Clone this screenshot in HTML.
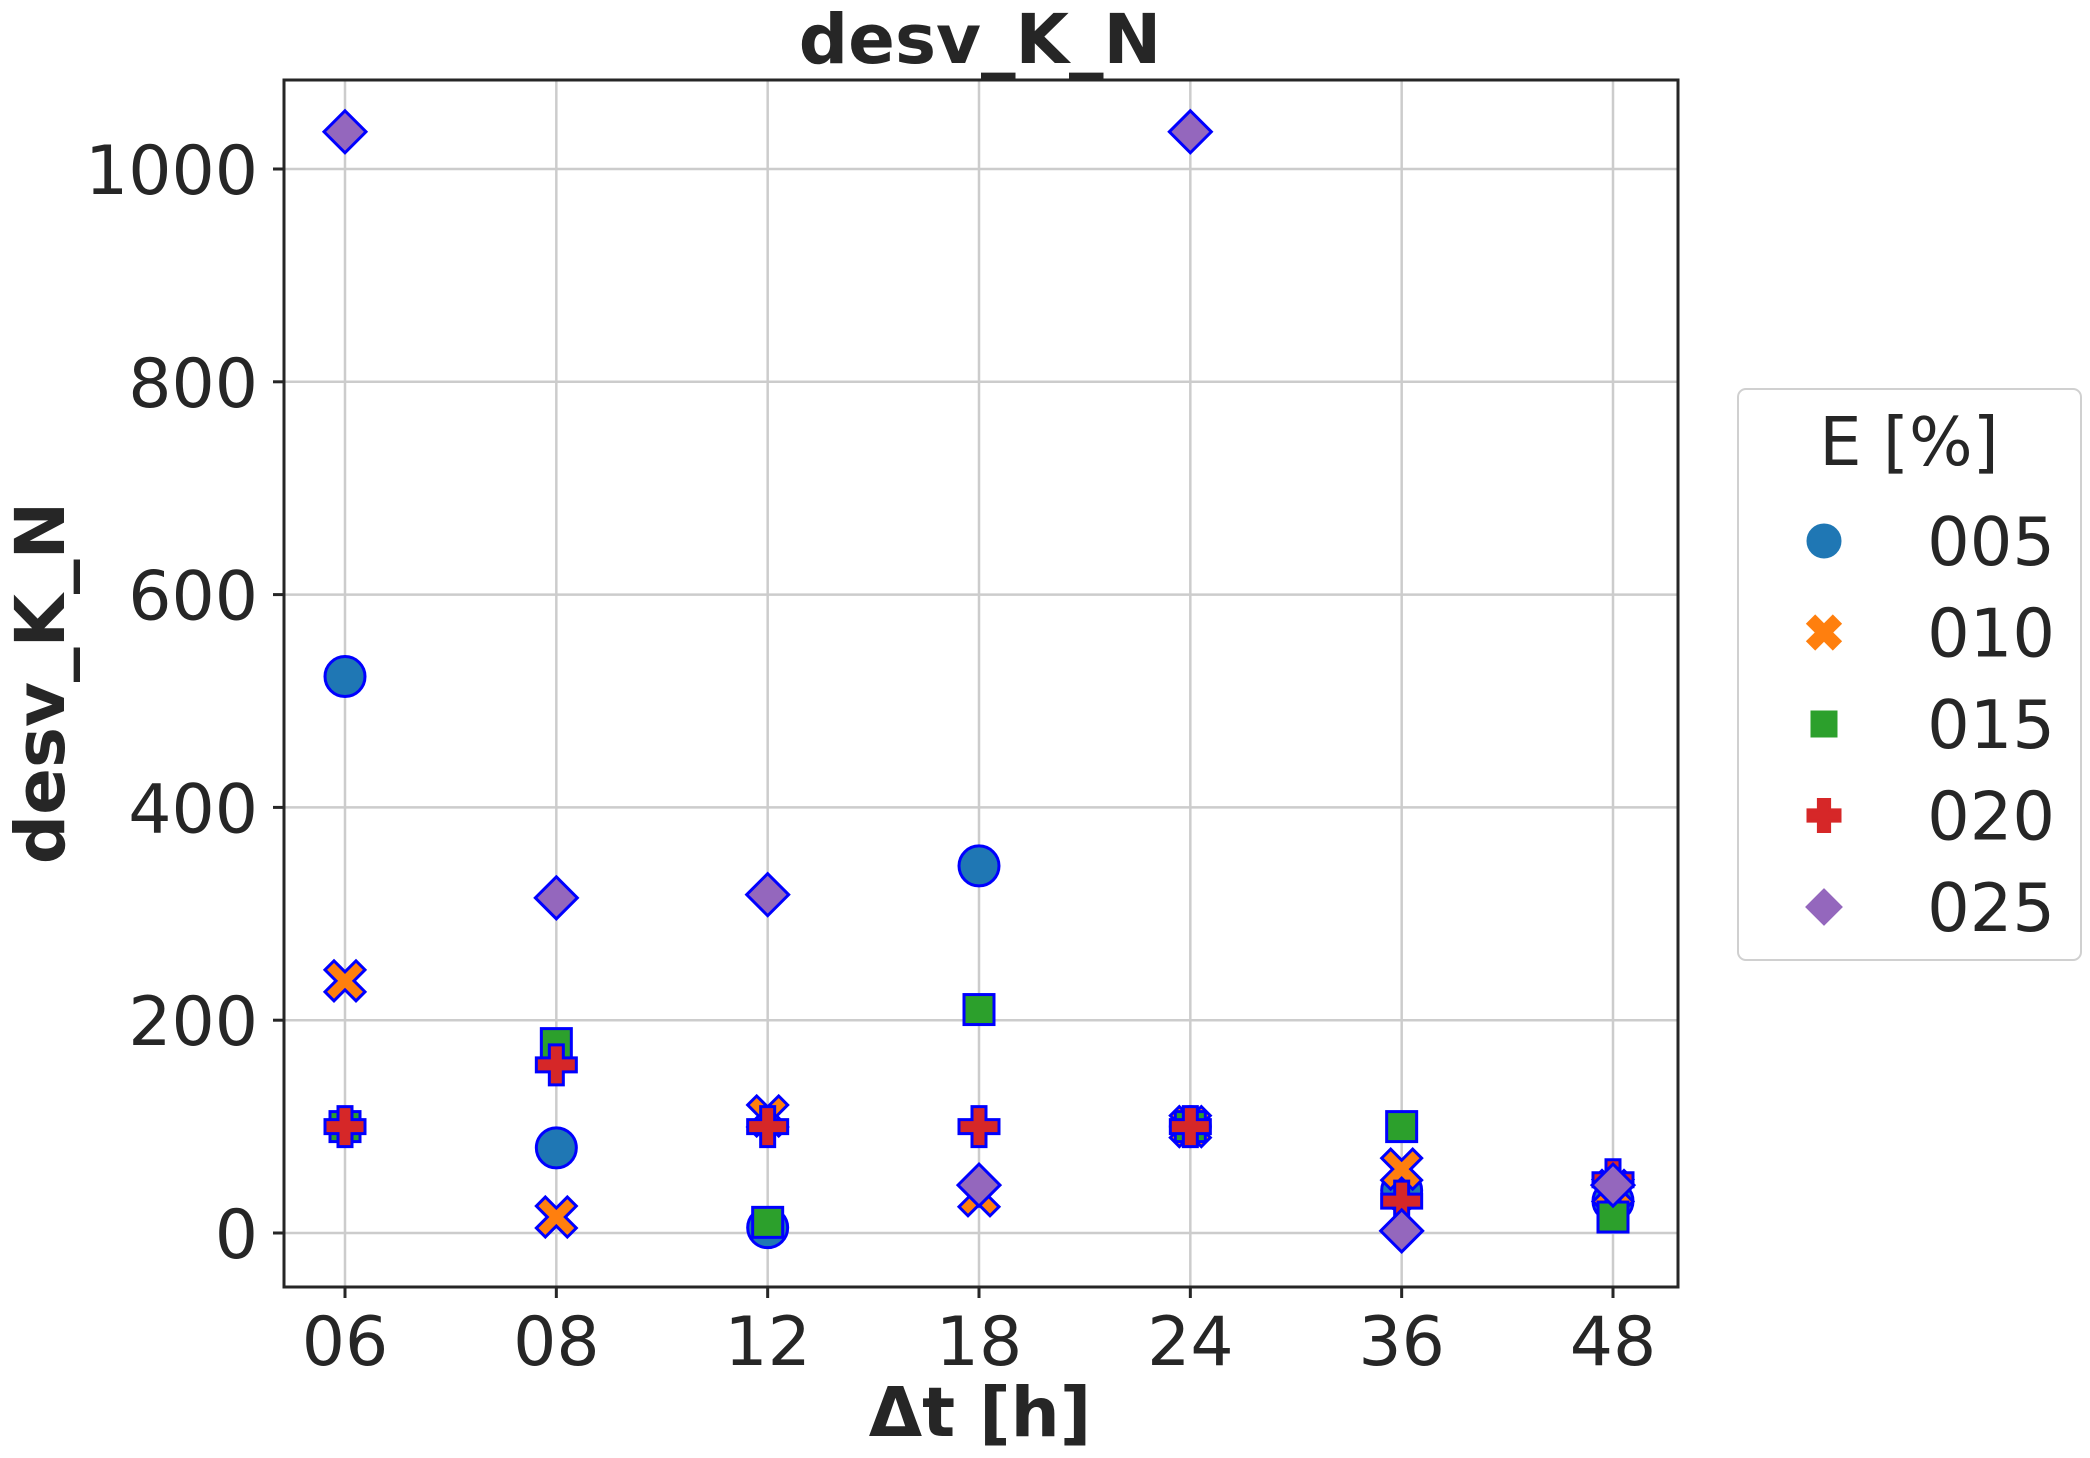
<!DOCTYPE html>
<html><head><meta charset="utf-8"><style>
html,body{margin:0;padding:0;background:#fff;}
svg{display:block;font-family:"DejaVu Sans","Liberation Sans",sans-serif;}
</style></head><body>
<svg id="chart" width="2090" height="1458" viewBox="0 0 2090 1458" xmlns="http://www.w3.org/2000/svg">
<rect width="2090" height="1458" fill="#fff"/>
<text x="980" y="63" font-size="69" font-weight="bold" text-anchor="middle" fill="#262626">desv_K_N</text>
<g id="grid"></g>
<g id="marks"></g>
<rect x="284" y="80" width="1394" height="1207" fill="none" stroke="#262626" stroke-width="3"/>
<g id="axes"></g>
<text x="980" y="1436" font-size="69" font-weight="bold" text-anchor="middle" fill="#262626">Δt [h]</text>
<text transform="translate(64,683) rotate(-90)" font-size="69" font-weight="bold" text-anchor="middle" fill="#262626">desv_K_N</text>
<g>
<rect x="1738" y="389" width="343" height="571" rx="8" fill="#fff" stroke="#d0d0d0" stroke-width="2"/>
<text x="1909" y="465" font-size="67" text-anchor="middle" fill="#262626">E [%]</text>
<g id="legend-entries"></g>
</g>
</svg>
<script>
const categories = ["06","08","12","18","24","36","48"];
const seriesNames = ["005","010","015","020","025"];
const s005 = [523, 80, 5, 345, 100, 40, 30];
const s010 = [237, 15, 110, 35, 100, 60, 40];
const s015 = [100, 178, 10, 210, 100, 100, 15];
const s020 = [100, 158, 100, 100, 100, 30, 50];
const s025 = [1035, 315, 318, 45, 1035, 2, 45];
const yTicks = [0, 200, 400, 600, 800, 1000];

const series = [s005, s010, s015, s020, s025];
const colors = ["#1f77b4","#ff7f0e","#2ca02c","#d62728","#9467bd"];
const shapes = ["circle","x","square","plus","diamond"];
const NS = "http://www.w3.org/2000/svg";
const L=284,R=1678,T=80,B=1287;
function xs(i){return 345 + i*(1613-345)/(categories.length-1);}
function ys(v){return 1233 - v*1.064;}
function mk(tag,attrs,parent){const e=document.createElementNS(NS,tag);for(const k in attrs)e.setAttribute(k,attrs[k]);parent.appendChild(e);return e;}
const grid=document.getElementById('grid'), axes=document.getElementById('axes'), marks=document.getElementById('marks');
categories.forEach((c,i)=>{
  const x=xs(i);
  const g=mk('line',{x1:x,x2:x,y1:T,y2:B,stroke:'#cccccc','stroke-width':2.5},grid);
  
  
  mk('line',{x1:x,x2:x,y1:B,y2:B+11,stroke:'#262626','stroke-width':3},axes);
  const t=mk('text',{x:x,y:1365,'font-size':68,'text-anchor':'middle',fill:'#262626'},axes);
  t.textContent=c;
  
  
});
yTicks.forEach(v=>{
  const y=ys(v);
  const g=mk('line',{x1:L,x2:R,y1:y,y2:y,stroke:'#cccccc','stroke-width':2.5},grid);
  
  
  mk('line',{x1:L-11,x2:L,y1:y,y2:y,stroke:'#262626','stroke-width':3},axes);
  const t=mk('text',{x:258,y:y+25,'font-size':68,'text-anchor':'end',fill:'#262626'},axes);
  t.textContent=String(v);
  
  
});
function marker(shape,x,y,color,parent,stroke,s){
  s=s||1; let e;
  const a={fill:color,stroke:stroke||'#0000ff','stroke-width':3};
  if(shape==='circle'){e=mk('circle',Object.assign({cx:x,cy:y,r:20*s},a),parent);}
  else if(shape==='square'){const h=15*s;e=mk('rect',Object.assign({x:x-h,y:y-h,width:2*h,height:2*h},a),parent);}
  else if(shape==='diamond'){const h=21*s;e=mk('polygon',Object.assign({points:`${x},${y-h} ${x+h},${y} ${x},${y+h} ${x-h},${y}`},a),parent);}
  else if(shape==='plus'){const h=20*s,w=7*s;e=mk('polygon',Object.assign({points:`${x-w},${y-h} ${x+w},${y-h} ${x+w},${y-w} ${x+h},${y-w} ${x+h},${y+w} ${x+w},${y+w} ${x+w},${y+h} ${x-w},${y+h} ${x-w},${y+w} ${x-h},${y+w} ${x-h},${y-w} ${x-w},${y-w}`},a),parent);}
  else {const h=20*s,w=9*s;const p=[[-h,-h+w],[-h+w,-h],[0,-w],[h-w,-h],[h,-h+w],[w,0],[h,h-w],[h-w,h],[0,w],[-h+w,h],[-h,h-w],[-w,0]];e=mk('polygon',Object.assign({points:p.map(q=>(x+q[0])+','+(y+q[1])).join(' ')},a),parent);}
  return e;
}
series.forEach((arr,si)=>{
  arr.forEach((v,i)=>{
    const e=marker(shapes[si],xs(i),ys(v),colors[si],marks);
    
    
  });
});
const le=document.getElementById('legend-entries');
seriesNames.forEach((n,si)=>{
  const y=541+si*91.5;
  const g=mk('g',{},le);
  
  
  marker(shapes[si],1824,y,colors[si],g,colors[si],0.8);
  const t=mk('text',{x:2055,y:y+24,'font-size':67,'text-anchor':'end',fill:'#262626'},g);
  t.textContent=n;
});
</script>
</body></html>
